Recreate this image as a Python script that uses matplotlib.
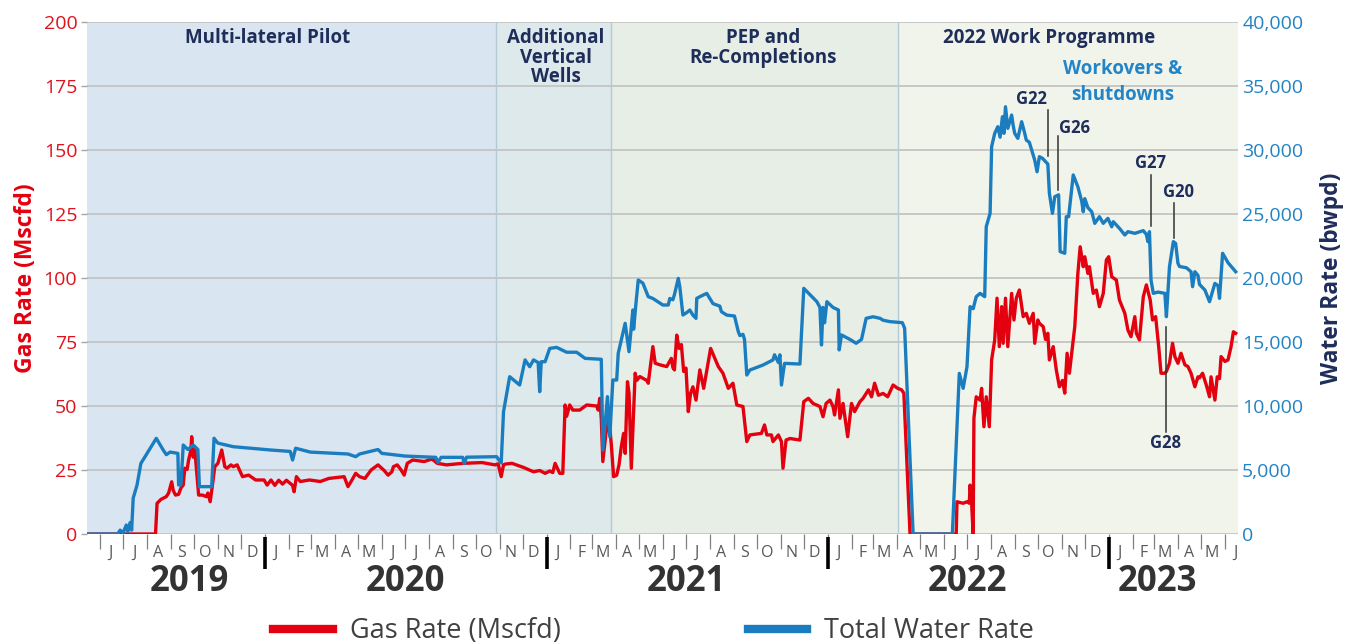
import numpy as np
import pandas as pd
import matplotlib
matplotlib.use("Agg")
import matplotlib.pyplot as plt
import matplotlib.dates as mdates
import matplotlib.transforms as mtransforms
from matplotlib.lines import Line2D
from matplotlib.ticker import FixedLocator, FuncFormatter, MultipleLocator, NullFormatter

plt.rcParams['font.family'] = ['Open Sans', 'DejaVu Sans']

# Time base: all day counts below are days since 15 May 2019
EPOCH = np.datetime64("2019-05-15")
AXIS_END_DAY = 1495

# ---- Total water rate (bwpd) ----
water_days = [0, 40, 43, 47, 51, 53, 56, 58, 60, 65, 70, 75, 90, 99, 103, 108, 118, 119, 122, 125,
              131, 138, 144, 146, 162, 165, 170, 190, 239, 264, 267, 271, 290, 339, 349, 354, 378,
              383, 413, 453, 456, 460, 488, 490, 493, 532, 538, 541, 549, 562, 569, 575, 580, 586,
              588, 590, 595, 601, 610, 623, 636, 647, 668, 670, 676, 679, 683, 688, 690, 699, 704,
              709, 710, 713, 716, 722, 729, 735, 748, 755, 757, 761, 763, 768, 770, 774, 779, 783,
              787, 791, 792, 798, 805, 809, 813, 822, 824, 831, 841, 846, 848, 852, 854, 857, 861,
              878, 891, 893, 898, 900, 902, 906, 926, 931, 939, 948, 952, 954, 956, 958, 961, 969,
              976, 977, 980, 991, 999, 1006, 1012, 1021, 1030, 1034, 1043, 1059, 1062, 1073, 1124,
              1133, 1138, 1143, 1147, 1151, 1155, 1160, 1166, 1168, 1173, 1175, 1179, 1183, 1186,
              1189, 1191, 1193, 1196, 1201, 1203, 1205, 1209, 1214, 1218, 1220, 1224, 1229, 1231,
              1234, 1237, 1241, 1245, 1248, 1250, 1254, 1257, 1262, 1264, 1270, 1272, 1275, 1281,
              1287, 1292, 1294, 1296, 1300, 1305, 1309, 1315, 1320, 1326, 1331, 1333, 1341, 1348,
              1352, 1361, 1372, 1376, 1378, 1380, 1382, 1385, 1391, 1400, 1402, 1406, 1411, 1414,
              1417, 1419, 1428, 1434, 1436, 1439, 1443, 1445, 1452, 1458, 1465, 1469, 1471, 1475,
              1482, 1492]
water_bwpd = [0, 0, 300, 100, 700, 200, 900, 300, 2800, 3830, 5520, 6000, 7475, 6560, 6200, 6400,
              6300, 3830, 3830, 6950, 6600, 6950, 6600, 3700, 3700, 7480, 7100, 6820, 6560, 6450,
              5780, 6700, 6400, 6250, 6040, 6250, 6600, 6300, 6090, 5990, 5600, 5990, 5990, 5500,
              6000, 6040, 5550, 9550, 12290, 11640, 13600, 13070, 13600, 13400, 11120, 13460,
              13460, 14500, 14580, 14200, 14200, 13720, 13650, 6560, 10730, 7600, 12030, 12030,
              14120, 16460, 14240, 17500, 16000, 18000, 19840, 19600, 18540, 18400, 17890, 17890,
              18400, 18300, 18700, 19970, 19300, 17110, 17300, 17500, 17100, 16850, 18410, 18600,
              18800, 18400, 18000, 17800, 17370, 17100, 17030, 15800, 15500, 15600, 15200, 12420,
              12810, 13200, 13600, 14000, 13400, 14000, 11640, 13330, 13280, 19190, 18700, 18150,
              17700, 14770, 17700, 16500, 18150, 17700, 17500, 14380, 15550, 15200, 14900, 15200,
              16850, 16970, 16850, 16700, 16590, 16510, 16070, 0, 0, 12550, 11380, 13070, 17760,
              17600, 18540, 18800, 18540, 24010, 25050, 30260, 31300, 31820, 31000, 32600, 31300,
              33380, 31690, 32730, 31900, 31300, 30910, 32210, 31300, 30780, 30600, 29610, 29200,
              28300, 29480, 29350, 29090, 28900, 26620, 25050, 26350, 26500, 22060, 21930, 24790,
              24790, 28050, 27130, 26000, 25180, 26200, 25500, 25180, 24270, 24790, 24270, 24660,
              24000, 24400, 23880, 23360, 23620, 23490, 23700, 23400, 22840, 23620, 19840, 18800,
              18900, 18800, 16980, 20880, 22840, 22700, 21150, 20900, 20800, 20490, 19320, 20490,
              20200, 19500, 19060, 18150, 19580, 19400, 18410, 21930, 21200, 20490]

# ---- Gas rate (Mscfd) ----
gas_days = [0, 89, 91, 96, 103, 106, 110, 112, 115, 119, 122, 125, 127, 130, 132, 135, 136, 138,
            140, 142, 145, 150, 155, 157, 160, 162, 166, 170, 175, 179, 182, 187, 190, 195, 202,
            210, 219, 230, 234, 239, 244, 249, 254, 259, 267, 269, 272, 277, 289, 303, 314, 334,
            339, 344, 349, 354, 361, 369, 378, 386, 391, 396, 398, 403, 408, 412, 416, 423, 438,
            448, 455, 467, 488, 513, 530, 534, 538, 541, 543, 552, 567, 580, 588, 595, 601, 605,
            608, 614, 618, 621, 623, 627, 631, 640, 649, 662, 664, 666, 668, 670, 674, 678, 681,
            684, 688, 691, 694, 697, 699, 702, 704, 707, 712, 714, 718, 727, 729, 735, 738, 744,
            753, 759, 761, 763, 766, 769, 772, 775, 778, 781, 784, 787, 791, 796, 801, 810, 820,
            826, 833, 839, 844, 852, 857, 861, 876, 880, 883, 889, 891, 898, 902, 904, 908, 913,
            926, 931, 937, 943, 952, 956, 960, 965, 969, 971, 976, 978, 982, 988, 993, 997, 1004,
            1008, 1015, 1019, 1023, 1028, 1034, 1040, 1047, 1053, 1058, 1061, 1069, 1129, 1130,
            1138, 1143, 1146, 1147, 1149, 1151, 1152, 1155, 1160, 1162, 1165, 1168, 1172, 1175,
            1179, 1182, 1185, 1188, 1190, 1193, 1196, 1201, 1204, 1207, 1211, 1216, 1220, 1224,
            1229, 1231, 1235, 1237, 1242, 1245, 1248, 1250, 1255, 1259, 1263, 1267, 1270, 1273,
            1276, 1280, 1283, 1287, 1290, 1294, 1296, 1300, 1302, 1307, 1311, 1315, 1320, 1324,
            1327, 1331, 1337, 1341, 1348, 1352, 1356, 1361, 1363, 1367, 1372, 1376, 1381, 1384,
            1388, 1392, 1395, 1400, 1402, 1406, 1410, 1413, 1417, 1421, 1426, 1430, 1434, 1439,
            1443, 1445, 1449, 1454, 1458, 1460, 1465, 1468, 1471, 1473, 1478, 1482, 1486, 1489,
            1492]
gas_mscfd = [0, 0, 12.0, 13.5, 14.6, 16.0, 20.4, 17.0, 15.2, 15.5, 18.0, 19.1, 25.7, 25.2, 28.9,
             32.8, 38.0, 30.0, 33.0, 26.0, 15.2, 15.2, 14.6, 16.0, 12.6, 17.0, 26.3, 27.6, 32.8,
             26.3, 25.7, 27.0, 26.3, 27.0, 22.4, 23.0, 21.1, 21.1, 19.1, 21.1, 19.0, 21.0, 19.5,
             21.0, 19.0, 16.5, 22.4, 20.5, 21.1, 20.5, 21.7, 22.4, 18.5, 21.0, 23.7, 22.4, 21.7,
             25.0, 27.0, 24.8, 23.0, 24.3, 26.3, 27.0, 25.0, 23.0, 27.6, 28.9, 28.3, 29.3, 27.6,
             27.0, 27.6, 27.9, 27.0, 27.4, 22.4, 27.0, 27.3, 27.6, 26.0, 24.3, 24.8, 23.7, 24.6,
             24.0, 27.6, 23.7, 23.7, 50.4, 46.0, 50.4, 48.4, 48.4, 50.4, 50.0, 48.4, 53.0, 45.0,
             28.3, 39.3, 44.5, 35.0, 22.4, 23.0, 27.0, 34.1, 39.3, 31.5, 59.5, 55.0, 25.7, 62.8,
             60.0, 61.5, 60.0, 58.9, 73.2, 66.7, 66.1, 65.4, 68.6, 65.0, 64.1, 77.7, 72.5, 74.0,
             63.5, 64.8, 47.8, 55.0, 57.5, 52.3, 64.1, 56.9, 72.5, 65.4, 62.8, 56.9, 58.9, 50.4,
             49.8, 36.1, 38.7, 39.3, 42.6, 38.7, 38.7, 36.1, 38.7, 36.1, 25.7, 36.7, 37.3, 36.7,
             51.7, 53.0, 51.0, 49.8, 45.8, 51.0, 52.3, 49.8, 46.5, 56.3, 45.2, 51.0, 38.0, 51.0,
             47.8, 51.7, 53.0, 56.3, 53.6, 58.9, 54.2, 54.9, 53.6, 58.2, 56.9, 56.3, 55.0, 0, 0,
             12.6, 12.0, 12.6, 12.0, 19.1, 12.0, 0, 45.2, 53.6, 52.3, 56.9, 41.9, 53.6, 41.9,
             68.0, 75.8, 92.1, 73.2, 88.8, 74.5, 92.1, 73.2, 94.0, 83.6, 92.1, 95.3, 84.9, 86.2,
             82.3, 86.2, 74.5, 83.6, 82.3, 81.0, 76.0, 78.4, 68.0, 73.2, 64.1, 57.5, 60.0, 55.0,
             70.6, 62.8, 73.2, 81.0, 101.8, 112.2, 104.4, 108.3, 101.8, 104.4, 94.0, 95.3, 88.8,
             94.0, 107.0, 108.3, 100.5, 99.2, 91.4, 86.2, 79.7, 77.1, 84.9, 78.4, 75.8, 92.7,
             97.3, 91.4, 83.6, 84.9, 73.2, 62.8, 62.8, 63.5, 66.7, 74.5, 69.3, 66.7, 70.6, 66.1,
             65.4, 62.8, 57.5, 61.4, 61.0, 62.8, 58.0, 53.6, 61.4, 52.3, 61.4, 60.7, 69.3, 67.4,
             68.0, 73.2, 79.0, 78.4]

# ---- Development phases ----
phase_names = ["Multi-lateral Pilot", "Additional\nVertical\nWells",
               "PEP and\nRe-Completions", "2022 Work Programme"]
phase_start_days = [0, 531, 680, 1054]
phase_label_days = [235, 609, 878, 1249]
phase_colors = ["#d9e6f1", "#dde9eb", "#e6eee5", "#f1f4eb"]

# ---- Well work events (label, day, water level range of the leader, label position) ----
well_events = [
    ("G22", 1248, 29530, 33125, 1227, 33984),
    ("G26", 1261, 26875, 31094, 1283, 31719),
    ("G27", 1382, 24063, 28047, 1381, 29008),
    ("G20", 1412, 23125, 25859, 1418, 26742),
    ("G28", 1401, 7992, 16195, 1401, 7133),
]

years = [2019, 2020, 2021, 2022, 2023]
year_label_dates = ["2019-09-25", "2020-07-01", "2021-07-02", "2022-07-02", "2023-03-06"]
month_letters = "JFMAMJJASOND"

GAS_RED = "#e3000f"
WATER_BLUE = "#1a7dc0"
NAVY = "#1f2d5a"


def to_dates(days):
    return EPOCH + np.asarray(days).astype("timedelta64[D]")


fig = plt.figure(figsize=(13.56, 6.43), dpi=100)
ax = fig.add_axes([87 / 1356, 1 - 534 / 643, (1238 - 87) / 1356, 512 / 643])
ax2 = ax.twinx()

x_end = EPOCH + np.timedelta64(AXIS_END_DAY, "D")
ax.set_xlim(EPOCH, x_end)

# phase shading and dividers
bounds = to_dates(phase_start_days + [AXIS_END_DAY])
for i, col in enumerate(phase_colors):
    ax.axvspan(bounds[i], bounds[i + 1], color=col, lw=0, zorder=0)
for b in bounds[1:-1]:
    ax.axvline(b, color="#b3c9d6", lw=1.0, zorder=0.6)

# series
ax.plot(to_dates(gas_days), gas_mscfd, color=GAS_RED, lw=2.4, solid_joinstyle="round", zorder=3)
ax2.plot(to_dates(water_days), water_bwpd, color=WATER_BLUE, lw=2.4, solid_joinstyle="round", zorder=3)

# y axes
ax.set_ylim(0, 200)
ax.yaxis.set_major_locator(MultipleLocator(25))
ax.grid(axis="y", color="#c4c4c4", lw=1.3)
ax.set_axisbelow(True)
ax.tick_params(axis="y", length=4, width=1, color="#a6a6a6", pad=3, labelsize=14, labelcolor="#e0121c")
ax.set_ylabel("Gas Rate (Mscfd)", color=GAS_RED, fontsize=16.5, fontweight="bold", labelpad=4)

ax2.set_ylim(0, 40000)
ax2.yaxis.set_major_locator(MultipleLocator(5000))
ax2.yaxis.set_major_formatter(FuncFormatter(lambda v, p: f"{v:,.0f}"))
ax2.tick_params(axis="y", length=0, pad=3, labelsize=14, labelcolor="#2283c4")
ax2.set_ylabel("Water Rate (bwpd)", color=NAVY, fontsize=16.5, fontweight="bold", labelpad=12)

for a in (ax, ax2):
    for s in a.spines.values():
        s.set_visible(False)

# month ticks and letters
month_starts = pd.date_range("2019-06-01", "2023-06-01", freq="MS")
mid_months = month_starts + pd.Timedelta(days=14)
ax.xaxis.set_major_locator(FixedLocator(mdates.date2num(month_starts.to_pydatetime())))
ax.xaxis.set_major_formatter(NullFormatter())
ax.xaxis.set_minor_locator(FixedLocator(mdates.date2num(mid_months.to_pydatetime())))
ax.xaxis.set_minor_formatter(FuncFormatter(lambda v, p: month_letters[mdates.num2date(v).month - 1]))
ax.tick_params(axis="x", which="major", length=11, width=0.9, color="#808080")
ax.tick_params(axis="x", which="minor", length=0, pad=8, labelsize=11.5, labelcolor="#595959")

# year separators and labels
xblend = mtransforms.blended_transform_factory(ax.transData, ax.transAxes)
for yr in years[1:]:
    d = np.datetime64(f"{yr}-01-01")
    ax.plot([d, d], [-0.006, -0.068], transform=xblend, color="black", lw=2.6,
            clip_on=False, solid_capstyle="butt")
for yr, dstr in zip(years, year_label_dates):
    ax.text(np.datetime64(dstr), -0.094, str(yr), transform=xblend, ha="center", va="center",
            fontsize=25, fontweight="bold", color="#333333")

# phase headers
for name, d in zip(phase_names, phase_label_days):
    ax2.text(to_dates([d])[0], 0.988, name, transform=xblend, ha="center", va="top",
             fontsize=13.5, fontweight="bold", color=NAVY, linespacing=0.97)

ax2.text(to_dates([1345])[0], 35300, "Workovers &\nshutdowns", ha="center", va="center",
         fontsize=13.5, fontweight="bold", color="#2384c6", linespacing=1.4)

# well event leaders
for label, d, lo, hi, td, tl in well_events:
    dd = to_dates([d])[0]
    ax2.plot([dd, dd], [lo, hi], color="#333333", lw=1.1, zorder=4)
    ax2.text(to_dates([td])[0], tl, label, ha="center", va="center",
             fontsize=12, fontweight="bold", color=NAVY, zorder=5)

# legend
handles = [Line2D([], [], color=GAS_RED, lw=6), Line2D([], [], color=WATER_BLUE, lw=6)]
leg = fig.legend(handles, ["Gas Rate (Mscfd)", "Total Water Rate"], loc="center",
                 bbox_to_anchor=(0.482, 0.018), ncol=2, frameon=False, fontsize=19.5,
                 handlelength=2.2, handletextpad=0.63, columnspacing=6.9)
for t in leg.get_texts():
    t.set_color("#404040")

fig.savefig("out.png", dpi=100)
